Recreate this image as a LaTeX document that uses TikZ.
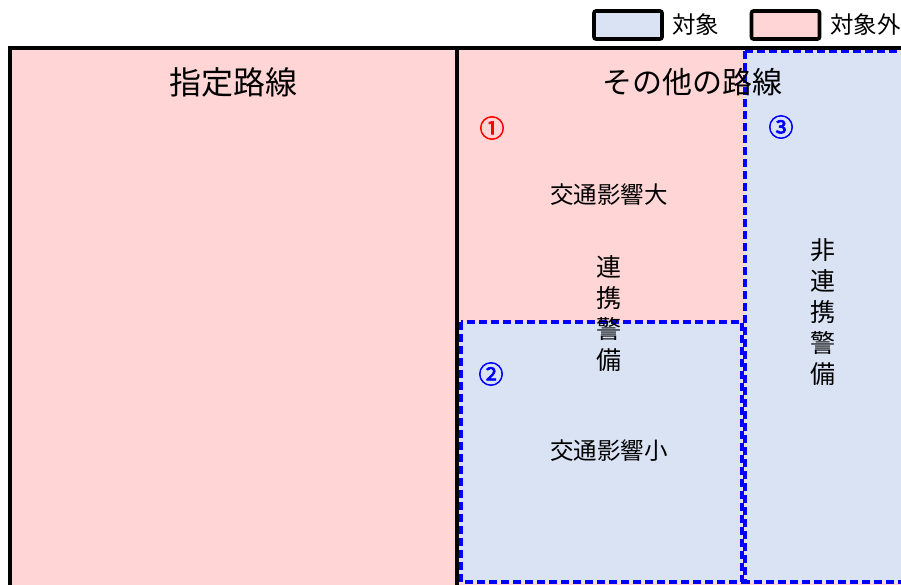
\documentclass[tikz,border=0pt]{standalone}
\usepackage{fontspec}
\setmainfont{Noto Sans CJK JP}
\newfontfamily\circfont[FakeBold=2.5]{Noto Sans CJK JP}
\definecolor{pinkfill}{HTML}{FFD5D5}
\definecolor{bluefill}{HTML}{DAE3F3}
\definecolor{dashblue}{HTML}{0000FF}
\tikzset{
  blackline/.style={line width=4pt, black},
  bluedash/.style={line width=3.2pt, draw=dashblue, dash pattern=on 8pt off 4pt},
  legbox/.style={draw=black, line width=3.6pt, rounded corners=2pt, minimum width=68pt, minimum height=28pt, inner sep=0pt},
  lbl/.style={inner sep=0pt, font=\fontsize{23.5}{25}\selectfont},
  title/.style={inner sep=0pt, font=\fontsize{32}{34}\selectfont},
  vert/.style={inner sep=0pt, align=center, font=\fontsize{25}{31}\selectfont},
  circnum/.style={inner sep=0pt, font=\circfont\fontsize{25}{26}\selectfont},
}
\begin{document}
\begin{tikzpicture}[x=1pt,y=-1pt]
\useasboundingbox (0,0) rectangle (901,584);
\begin{scope}
\clip (0,0) rectangle (901,584);
% fills
\fill[pinkfill] (8,48) rectangle (458,600);
\fill[pinkfill] (458,48) rectangle (920,600);
\fill[bluefill] (745,51) rectangle (920,582);
\fill[bluefill] (460,322) rectangle (742,582);
% dashed regions
\draw[bluedash] (745,51) rectangle (920,582);
\draw[bluedash] (461,322) rectangle (742,582);
% black frame
\draw[blackline] (8,48) -- (920,48);
\draw[blackline] (10,48) -- (10,600);
\draw[blackline] (457,48) -- (457,600);
% legend
\node[legbox, fill=bluefill] (legA) at (628,25) {};
\node[lbl, anchor=west] (legAt) at (672,25) {対象};
\node[legbox, fill=pinkfill] (legB) at (785.5,25) {};
\node[lbl, anchor=west] (legBt) at (830,25) {対象外};
\end{scope}
% titles
\node[title] (t1) at (233,82) {指定路線};
\node[title, font=\fontsize{30}{32}\selectfont] (t2) at (692,82) {その他の路線};
% region labels
\node[circnum, text=red] (n1) at (492,128) {①};
\node[circnum, text=dashblue] (n3) at (781,127) {③};
\node[circnum, text=dashblue] (n2) at (491,374) {②};
\node[lbl] (big) at (609,195) {交通影響大};
\node[lbl] (small) at (609,451) {交通影響小};
\node[vert, anchor=north] (renkei) at (609,255) {連\\携\\警\\備};
\node[vert, anchor=north] (hirenkei) at (823,238) {非\\連\\携\\警\\備};
\end{tikzpicture}
\end{document}
